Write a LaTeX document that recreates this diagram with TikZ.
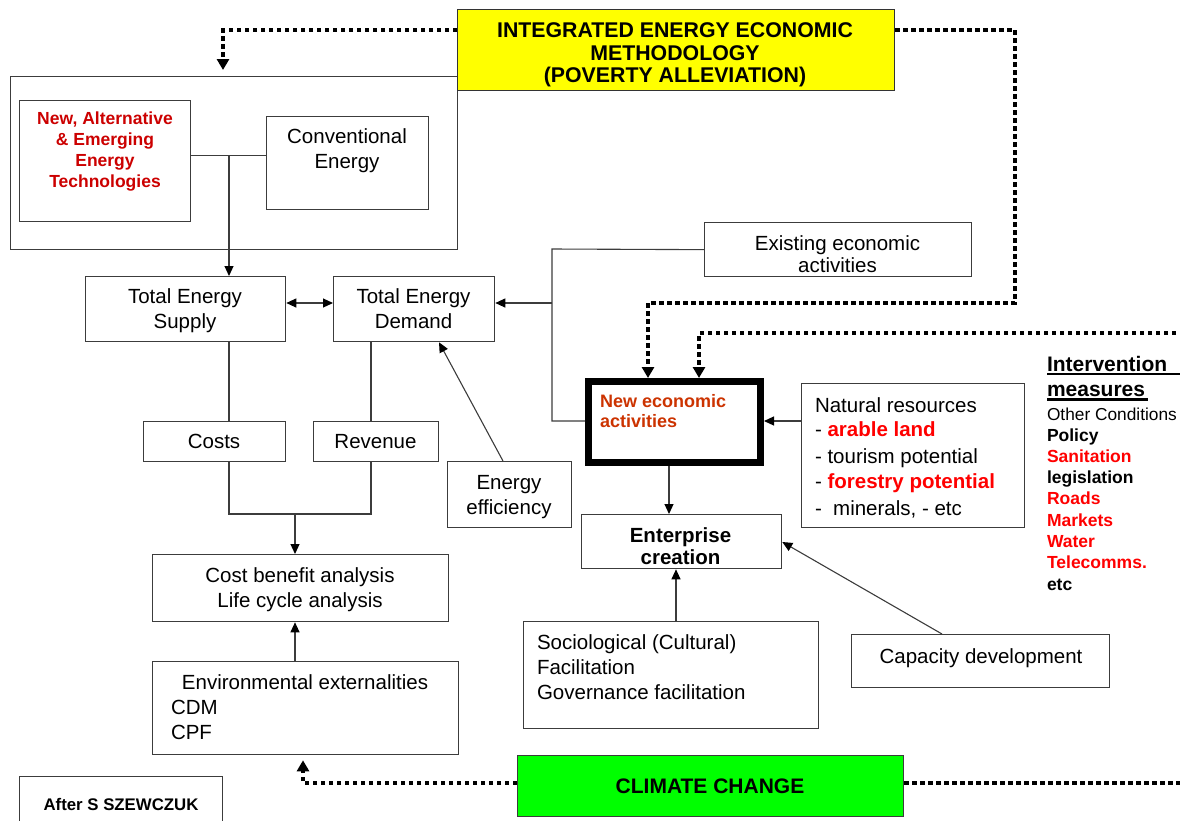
\documentclass[tikz,border=0pt]{standalone}
\usepackage{fontspec}
\setmainfont{Liberation Sans}
\usetikzlibrary{arrows.meta}
\definecolor{edge}{RGB}{60,60,60}
\definecolor{techred}{RGB}{204,0,0}
\definecolor{ecored}{RGB}{204,51,0}
\definecolor{hired}{RGB}{255,0,0}
\definecolor{boxyellow}{RGB}{255,255,0}
\definecolor{boxgreen}{RGB}{0,255,0}
\newcommand\fsz[2]{\fontsize{#1}{#2}\selectfont}
\begin{document}
\begin{tikzpicture}[x=1pt,y=-1pt,
  box/.style={draw=edge, line width=1.3pt, fill=white, inner sep=0pt, anchor=north west},
  lbl/.style={inner sep=0pt, outer sep=0pt, align=center, font=\fsz{20.5}{25}},
  line/.style={anchor=base west, inner sep=0pt, outer sep=0pt, font=\fsz{20.5}{25}},
  ivb/.style={line, font=\bfseries\fsz{17.5}{20}},
  con/.style={draw=edge, line width=1.1pt},
  arr/.style={con, -{Triangle[length=10pt,width=9pt,color=black]}},
  dots/.style={draw=black, line width=3.8pt, dash pattern=on 4.5pt off 3.5pt},
  dotarr/.style={dots, -{Triangle[length=11pt,width=12pt]}}
]
\useasboundingbox (0,0) rectangle (1180,820);
\clip (0,0) rectangle (1180,820);

% boxes
\node[box, minimum width=447pt, minimum height=173pt] (outer) at (10,76) {};
\node[box, minimum width=171pt, minimum height=121pt] (tech) at (19,100) {};
\node[box, minimum width=162pt, minimum height=93pt] (conv) at (266,116) {};
\node[box, fill=boxyellow, draw=black!80, minimum width=437pt, minimum height=81pt] (iee) at (457,9) {};
\node[box, minimum width=200pt, minimum height=65pt] (supply) at (85,276) {};
\node[box, minimum width=161pt, minimum height=65pt] (demand) at (333,276) {};
\node[box, minimum width=142pt, minimum height=40pt] (costs) at (143,421) {};
\node[box, minimum width=125pt, minimum height=40pt] (revenue) at (313,421) {};
\node[box, minimum width=124pt, minimum height=66pt] (eff) at (447,461) {};
\node[box, minimum width=267pt, minimum height=54pt] (exist) at (704,222) {};
\node[box, minimum width=296pt, minimum height=67pt] (cba) at (152,554) {};
\node[box, minimum width=306pt, minimum height=93pt] (env) at (152,661) {};
\node[box, draw=black, line width=7pt, minimum width=172pt, minimum height=81pt] (neweco) at (585,378) {};
\node[box, minimum width=223pt, minimum height=144pt] (natural) at (801,383) {};
\node[box, minimum width=200pt, minimum height=54pt] (enter) at (581,514) {};
\node[box, minimum width=295pt, minimum height=107pt] (socio) at (523,621) {};
\node[box, minimum width=258pt, minimum height=53pt] (capac) at (851,634) {};
\node[box, fill=boxgreen, minimum width=386pt, minimum height=61pt] (climate) at (517,755) {};
\node[box, minimum width=203pt, minimum height=60pt] (after) at (19,776) {};

% texts
\node[lbl, font=\bfseries\fsz{21.3}{22.5}] (ieeT) at (675,55) {INTEGRATED ENERGY ECONOMIC\\METHODOLOGY\\(POVERTY ALLEVIATION)};
\node[lbl, text=techred, font=\bfseries\fsz{17.5}{21.3}] (techT) at (105,151.5) {New, Alternative\\\& Emerging\\Energy\\Technologies};
\node[lbl] (convT) at (347,150.5) {Conventional\\Energy};
\node[lbl] (supplyT) at (185,311) {Total Energy\\Supply};
\node[lbl] (demandT) at (413.5,309) {Total Energy\\Demand};
\node[lbl] (costsT) at (214,441.5) {Costs};
\node[lbl] (revT) at (375.5,441.5) {Revenue};
\node[lbl] (effT) at (509,496.7) {Energy\\efficiency};
\node[lbl, font=\fsz{20.5}{22}] (existT) at (837.5,254.5) {Existing economic\\activities};
\node[lbl] (cbaT) at (300,590) {Cost benefit analysis\\Life cycle analysis};
\node[line, anchor=base] (envT1) at (305,689) {Environmental externalities};
\node[line] (envT2) at (171,714) {CDM};
\node[line] (envT3) at (171,739) {CPF};
\node[line, text=ecored, font=\bfseries\fsz{18}{20}] (ecoT1) at (600,407) {New economic};
\node[line, text=ecored, font=\bfseries\fsz{18}{20}] (ecoT2) at (600,427) {activities};
\node[line] (natT1) at (815,412) {Natural resources};
\node[line] (natT2) at (815,436) {- \textcolor{hired}{\bfseries arable land}};
\node[line] (natT3) at (815,463) {- tourism potential};
\node[line] (natT4) at (815,488) {- \textcolor{hired}{\bfseries forestry potential}};
\node[line] (natT5) at (815,515) {-\ \ minerals, - etc};
\node[lbl, font=\bfseries\fsz{20.5}{22}] (enterT) at (680.5,546.5) {Enterprise\\creation};
\node[line] (socT1) at (537,649) {Sociological (Cultural)};
\node[line] (socT2) at (537,674) {Facilitation};
\node[line] (socT3) at (537,699) {Governance facilitation};
\node[line, anchor=base] (capT) at (981,663) {Capacity development};
\node[line, anchor=base, font=\bfseries\fsz{21}{22}] (climT) at (710,793) {CLIMATE CHANGE};
\node[line, anchor=base, font=\bfseries\fsz{16.8}{18}] (afterT) at (121,810) {After S SZEWCZUK};

% intervention measures
\node[line, font=\bfseries\fsz{21}{22}] (iv1) at (1047,371) {Intervention};
\node[line, font=\bfseries\fsz{21}{22}] (iv2) at (1047,396) {measures};
\node[line, font=\fsz{17.3}{20}] (iv3) at (1047,420) {Other Conditions};
\node[ivb] (iv4) at (1047,441) {Policy};
\node[ivb, text=hired] (iv5) at (1047,462) {Sanitation};
\node[ivb] (iv6) at (1047,483) {legislation};
\node[ivb, text=hired] (iv7) at (1047,504) {Roads};
\node[ivb, text=hired] (iv8) at (1047,526) {Markets};
\node[ivb, text=hired] (iv9) at (1047,547) {Water};
\node[ivb, text=hired] (iv10) at (1047,568) {Telecomms.};
\node[ivb] (iv11) at (1047,590) {etc};
\draw[line width=2.6pt] (iv1.base west) ++(0,3) -- ++(135,0);
\draw[line width=2.6pt] (iv2.base west) ++(0,3.5) -- ++(101,0);

% connectors
\coordinate (jt) at (229,155.5);
\draw[con] (tech.east |- jt) -- (conv.west |- jt);
\draw[arr] (jt) -- (supply.north -| jt);
\coordinate (y303) at (0,303);
\draw[con, {Triangle[length=10pt,width=9pt,color=black]}-{Triangle[length=10pt,width=9pt,color=black]}] (supply.east |- y303) -- (demand.west |- y303);
\coordinate (jx1) at (552,249);
\coordinate (jx2) at (552,303);
\coordinate (jx3) at (552,421);
\draw[con] (exist.west) -- (jx1) -- (jx3) -- (neweco.west |- jx3);
\draw[arr] (jx2) -- (demand.east |- jx2);
\coordinate (xr) at (371,0);
\draw[con] (supply.south -| jt) -- (costs.north -| jt);
\draw[con] (demand.south -| xr) -- (revenue.north -| xr);
\coordinate (m1) at (229,514);
\coordinate (m2) at (371,514);
\coordinate (m3) at (295,514);
\draw[con] (costs.south -| m1) -- (m1) -- (m2) -- (revenue.south -| m2);
\draw[arr] (m3) -- (cba.north -| m3);
\draw[arr] (env.north -| m3) -- (cba.south -| m3);
\coordinate (ea) at (503,0);
\coordinate (da) at (439,0);
\draw[arr] (eff.north -| ea) -- (demand.south -| da);
\draw[arr] (natural.west |- jx3) -- (neweco.east |- jx3);
\coordinate (x669) at (669,0);
\draw[arr] (neweco.south -| x669) -- (enter.north -| x669);
\coordinate (x676) at (676,0);
\draw[arr] (socio.north -| x676) -- (enter.south -| x676);
\coordinate (cp) at (942,0);
\coordinate (ep) at (0,542);
\draw[arr] (capac.north -| cp) -- (enter.east |- ep);

% dotted links
\coordinate (d1) at (223,30);
\draw[dotarr, shorten >=6pt] (iee.west |- d1) -- (d1) -- (outer.north -| d1);
\coordinate (d2a) at (1015,30);
\coordinate (d2b) at (1015,303);
\coordinate (d2c) at (648,303);
\draw[dotarr] (iee.east |- d2a) -- (d2a) -- (d2b) -- (d2c) -- (neweco.north -| d2c);
\coordinate (d3a) at (1184,333);
\coordinate (d3b) at (699,333);
\draw[dotarr] (d3a) -- (d3b) -- (neweco.north -| d3b);
\coordinate (d4) at (303,783);
\coordinate (d4e) at (1184,783);
\draw[dotarr, shorten >=5pt] (climate.west |- d4) -- (d4) -- (env.south -| d4);
\draw[dots] (climate.east |- d4) -- (d4e);
\end{tikzpicture}
\end{document}
